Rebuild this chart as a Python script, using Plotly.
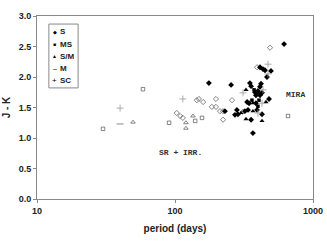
import plotly.graph_objects as go

# ---- data (period in days, J-K) ----
s_period = [176, 617, 255, 413, 434, 449, 496, 464, 349, 356, 420, 413, 380, 393, 399, 413,
            386, 427, 480, 333, 344, 386, 230, 272, 286, 281, 321, 338, 393, 427, 356, 367]
s_jk = [1.90, 2.54, 1.87, 2.16, 2.13, 2.11, 2.10, 2.00, 1.90, 1.85, 1.89, 1.84, 1.75, 1.74, 1.77, 1.70,
        1.70, 1.74, 1.64, 1.59, 1.57, 1.57, 1.44, 1.38, 1.39, 1.46, 1.44, 1.46, 1.46, 1.39, 1.30, 1.08]

ms_period = [374, 406, 361, 399]
ms_jk = [1.79, 1.62, 1.62, 1.52]

sm_period = [367, 327, 427, 367, 456, 301, 327]
sm_jk = [1.44, 1.31, 1.28, 1.57, 1.59, 1.41, 1.79]

m_period = [40]
m_jk = [1.23]

sc_period = [40, 114, 472, 472, 311, 434, 427, 399]
sc_jk = [1.49, 1.64, 2.21, 2.05, 1.74, 1.79, 1.57, 1.41]

# open symbols (semiregular / irregular variables)
od_period = [393, 488, 103, 109, 114, 144, 149, 160, 185, 198, 198, 212, 223, 259, 223, 311]
od_jk = [2.16, 2.48, 1.41, 1.36, 1.33, 1.62, 1.64, 1.59, 1.51, 1.51, 1.64, 1.44, 1.44, 1.62, 1.30, 1.43]

os_period = [30.1, 58.6, 90.6, 140, 157, 659]
os_jk = [1.15, 1.80, 1.25, 1.28, 1.33, 1.36]

ot_period = [49.6, 135, 120, 120]
ot_jk = [1.26, 1.36, 1.25, 1.16]

legend_labels = ["S", "MS", "S/M", "M", "SC"]
legend_glyphs = ["\u25C6", "\u25A0", "\u25B2", "\u2013", "+"]

fig = go.Figure()

def add(xs, ys, symbol, size, color, lw=0, lcolor=None):
    fig.add_trace(go.Scatter(
        x=xs, y=ys, mode="markers", showlegend=False,
        marker=dict(symbol=symbol, size=size, color=color,
                    line=dict(width=lw, color=lcolor or color)),
        hoverinfo="skip"))

add(od_period, od_jk, "diamond-open", 4, "#666666", 0.8)
add(os_period, os_jk, "square-open", 3.5, "#666666", 0.8)
add(ot_period, ot_jk, "triangle-up-open", 4, "#666666", 0.8)
add(s_period, s_jk, "diamond", 4.5, "black")
add(ms_period, ms_jk, "square", 3.5, "black")
add(sm_period, sm_jk, "triangle-up", 4.5, "black")
add(m_period, m_jk, "line-ew", 5, "#888888", 1)
add(sc_period, sc_jk, "cross-thin", 5, "#999999", 0.8)

axis_font = dict(family="Liberation Sans, Arial", size=9, color="#222222")
fig.update_layout(
    width=327, height=248,
    margin=dict(l=37, r=14, t=16, b=49),
    paper_bgcolor="white", plot_bgcolor="white",
    font=dict(family="Liberation Sans, Arial", color="#222222"),
    xaxis=dict(type="log", range=[1, 3], tickvals=[10, 100, 1000], ticktext=["<b>10</b>", "<b>100</b>", "<b>1000</b>"],
               showgrid=False, zeroline=False, showline=True, linecolor="#888888", linewidth=1,
               mirror=True, ticks="outside", ticklen=3, tickcolor="#888888", tickfont=axis_font,
               automargin=False,
               title=dict(text="<b>period (days)</b>", font=dict(size=10, family="Liberation Sans, Arial"), standoff=10)),
    yaxis=dict(range=[0, 3], tickvals=[0, 0.5, 1.0, 1.5, 2.0, 2.5, 3.0],
               ticktext=["<b>0.0</b>", "<b>0.5</b>", "<b>1.0</b>", "<b>1.5</b>", "<b>2.0</b>", "<b>2.5</b>", "<b>3.0</b>"],
               showgrid=False, zeroline=False, showline=True, linecolor="#888888", linewidth=1,
               mirror=True, ticks="outside", ticklen=3, tickcolor="#888888", tickfont=axis_font,
               automargin=False,
               title=dict(text="<b>J - K</b>", font=dict(size=10, family="Liberation Sans, Arial"), standoff=6)),
)

# legend box (drawn manually for compact spacing)
fig.add_shape(type="rect", xref="paper", yref="paper", x0=0.043, x1=0.149, y0=0.607, y1=0.956,
              line=dict(color="#888888", width=1), fillcolor="white")
glyph_sizes = [5, 5, 5, 7, 8]
for i, (g, lab) in enumerate(zip(legend_glyphs, legend_labels)):
    yy = 0.913 - i * 0.067
    fig.add_annotation(xref="paper", yref="paper", x=0.064, y=yy, text=g, showarrow=False,
                       font=dict(size=glyph_sizes[i], color="black"),
                       xanchor="center", yanchor="middle")
    fig.add_annotation(xref="paper", yref="paper", x=0.077, y=yy, text="<b>" + lab + "</b>", showarrow=False,
                       font=dict(size=8, color="#222222"), xanchor="left", yanchor="middle")

mono = dict(family="Liberation Mono, Courier New, monospace", size=8, color="#333333")
fig.add_annotation(x=2.870, y=1.72, xref="x", yref="y", text="<b>MIRA</b>", showarrow=False, font=mono)
fig.add_annotation(x=2.043, y=0.77, xref="x", yref="y", text="<b>SR + IRR.</b>", showarrow=False, font=mono)

fig.write_html("out.html", config={"displayModeBar": False},
               post_script="document.body.style.margin='0';document.body.style.overflow='hidden';")
